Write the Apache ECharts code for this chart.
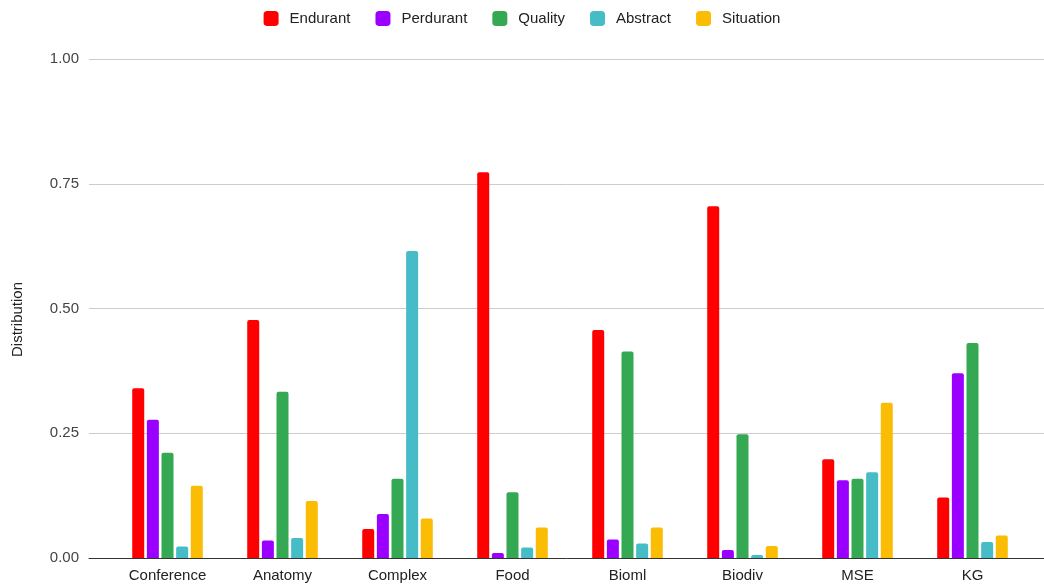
<!DOCTYPE html>
<html>
<head>
    <meta charset="utf-8">
    <title>Distribution</title>
    <script src="https://cdn.jsdelivr.net/npm/echarts@6/dist/echarts.min.js"></script>
    <style>
        html, body { margin: 0; padding: 0; background: #fff; }
        #main { width: 1044px; height: 588px; }
    </style>
</head>
<body>
    <div id="main"></div>
    <script type="text/javascript">

var categories = ['Conference', 'Anatomy', 'Complex', 'Food', 'Bioml', 'Biodiv', 'MSE', 'KG'];
var seriesNames = ['Endurant', 'Perdurant', 'Quality', 'Abstract', 'Situation'];
var colors = ['#ff0000', '#9900ff', '#34a853', '#46bdc6', '#fbbc04'];

var endurant  = [0.340, 0.477, 0.058, 0.773, 0.457, 0.705, 0.198, 0.121];
var perdurant = [0.277, 0.035, 0.088, 0.010, 0.037, 0.016, 0.156, 0.370];
var quality   = [0.211, 0.333, 0.159, 0.132, 0.414, 0.248, 0.159, 0.431];
var abstract_ = [0.023, 0.040, 0.615, 0.021, 0.029, 0.006, 0.172, 0.032];
var situation = [0.145, 0.114, 0.079, 0.061, 0.061, 0.024, 0.311, 0.045];

var values = [endurant, perdurant, quality, abstract_, situation];
var font = '"Liberation Sans"';

var myChart = echarts.init(document.getElementById('main'));

myChart.setOption({
    animation: false,
    color: colors,
    textStyle: { fontFamily: font },
    legend: {
        top: 6,
        left: 'center',
        icon: 'roundRect',
        itemWidth: 15,
        itemHeight: 15,
        itemGap: 25,
        textStyle: { fontSize: 15, color: '#222', fontFamily: font, padding: [0, 0, 0, 6] },
        data: seriesNames
    },
    // grid 0 carries the gridlines and baseline, grid 1 the bars (inset like the original)
    grid: [
        { left: 89, right: 0, top: 59, bottom: 30 },
        { left: 110, right: 14, top: 59, bottom: 30 }
    ],
    xAxis: [
        {
            gridIndex: 0, type: 'value', min: 0, max: 1, z: 5,
            axisLine: { show: true, lineStyle: { color: '#333', width: 1 } },
            axisTick: { show: false }, axisLabel: { show: false }, splitLine: { show: false }
        },
        {
            gridIndex: 1, type: 'category', data: categories,
            axisLine: { show: false }, axisTick: { show: false },
            axisLabel: { fontSize: 15, color: '#222', margin: 10, fontFamily: font }
        }
    ],
    yAxis: [
        {
            gridIndex: 0, type: 'value', min: 0, max: 1, interval: 0.25,
            name: 'Distribution', nameLocation: 'middle', nameGap: 64,
            nameTextStyle: { fontSize: 15, color: '#222', fontFamily: font, padding: [0, 0, 0, -22] },
            axisLine: { show: false }, axisTick: { show: false },
            axisLabel: {
                fontSize: 15, color: '#444', margin: 10, fontFamily: font,
                formatter: function (v) { return v.toFixed(2); }
            },
            splitLine: { lineStyle: { color: '#cccccc', width: 1 } }
        },
        {
            gridIndex: 1, type: 'value', min: 0, max: 1, show: false
        }
    ],
    series: seriesNames.map(function (name, i) {
        return {
            name: name,
            type: 'bar',
            xAxisIndex: 1,
            yAxisIndex: 1,
            barWidth: 12,
            barGap: '22%',
            itemStyle: { color: colors[i], borderRadius: [2, 2, 0, 0] },
            data: values[i]
        };
    })
});
</script>
</body>
</html>
